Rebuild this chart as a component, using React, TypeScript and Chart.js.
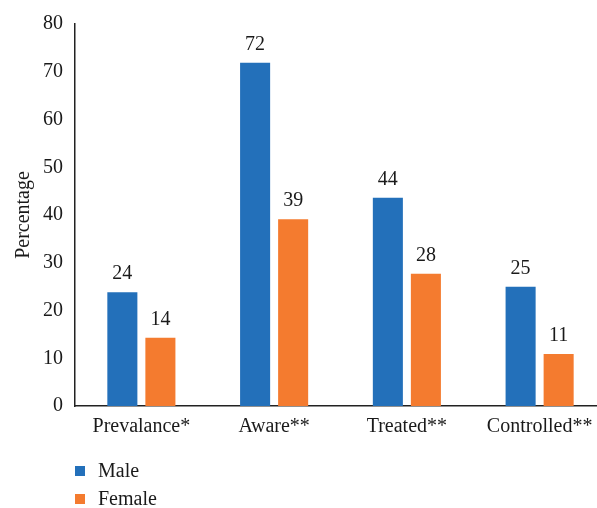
import React, { useEffect, useRef } from "react";
import { Chart, registerables } from "chart.js";

Chart.register(...registerables);

const categories = ["Prevalance*", "Aware**", "Treated**", "Controlled**"];
const maleValues = [23.8, 71.9, 43.6, 25.0];
const femaleValues = [14.3, 39.1, 27.7, 10.9];
const maleLabels = ["24", "72", "44", "25"];
const femaleLabels = ["14", "39", "28", "11"];
const yTicks = [0, 10, 20, 30, 40, 50, 60, 70, 80];

const BLUE = "#2370BA";
const ORANGE = "#F47B2F";
const FONT = "'Liberation Serif', 'Times New Roman', serif";
const TEXT = "#1a1a1a";
const FS = 20;

export default function App() {
  const ref = useRef<HTMLCanvasElement | null>(null);

  useEffect(() => {
    document.documentElement.style.overflow = "hidden";
    document.body.style.overflow = "hidden";
    const canvas = ref.current;
    if (!canvas) return;
    const allLabels = [maleLabels, femaleLabels];

    const valueLabels = {
      id: "valueLabels",
      afterDatasetsDraw(chart: any) {
        const ctx = chart.ctx;
        ctx.save();
        ctx.font = `${FS}px ${FONT}`;
        ctx.fillStyle = TEXT;
        ctx.textAlign = "center";
        ctx.textBaseline = "alphabetic";
        chart.data.datasets.forEach((ds: any, di: number) => {
          const meta = chart.getDatasetMeta(di);
          meta.data.forEach((bar: any, i: number) => {
            ctx.fillText(allLabels[di][i], bar.x, bar.y - 13);
          });
        });
        ctx.restore();
      },
    };

    const bottomLegend = {
      id: "bottomLegend",
      afterDraw(chart: any) {
        const ctx = chart.ctx;
        ctx.save();
        ctx.font = `${FS}px ${FONT}`;
        ctx.textBaseline = "alphabetic";
        ctx.textAlign = "left";
        chart.data.datasets.forEach((ds: any, di: number) => {
          const y = 471 + di * 28;
          ctx.fillStyle = ds.backgroundColor;
          ctx.fillRect(75, y - 5, 10, 10);
          ctx.fillStyle = TEXT;
          ctx.fillText(ds.label, 98, y + 6);
        });
        ctx.restore();
      },
    };

    const chart = new Chart(canvas, {
      type: "bar",
      data: {
        labels: categories,
        datasets: [
          {
            label: "Male",
            data: maleValues,
            backgroundColor: BLUE,
            categoryPercentage: 0.573,
            barPercentage: 0.79,
          },
          {
            label: "Female",
            data: femaleValues,
            backgroundColor: ORANGE,
            categoryPercentage: 0.573,
            barPercentage: 0.79,
          },
        ],
      },
      options: {
        animation: false,
        responsive: false,
        maintainAspectRatio: false,
        devicePixelRatio: 1,
        layout: { padding: { top: 19, bottom: 62, left: 0, right: 0 } },
        plugins: {
          legend: { display: false },
          tooltip: { enabled: false },
        },
        scales: {
          x: {
            grid: { display: false, drawTicks: false },
            border: { display: true, color: "#222", width: 1.5 },
            ticks: {
              color: TEXT,
              font: { family: FONT, size: FS },
              padding: 9,
              maxRotation: 0,
              autoSkip: false,
            },
            afterFit(scale: any) {
              scale.height = 40;
            },
          },
          y: {
            min: 0,
            max: 80,
            grid: { display: false, drawTicks: false },
            border: { display: true, color: "#222", width: 1.5 },
            afterBuildTicks(scale: any) {
              scale.ticks = yTicks.map((v) => ({ value: v }));
            },
            ticks: {
              color: TEXT,
              font: { family: FONT, size: FS },
              padding: 12,
            },
            title: {
              display: true,
              text: "Percentage",
              color: TEXT,
              font: { family: FONT, size: FS },
              padding: { top: 12, bottom: 0 },
            },
            afterFit(scale: any) {
              scale.width = 75;
            },
          },
        },
      },
      plugins: [valueLabels, bottomLegend],
    });
    return () => chart.destroy();
  }, []);

  return (
    <div style={{ position: "absolute", left: 0, top: 0, width: 606, height: 508, overflow: "hidden", background: "#fff" }}>
      <canvas ref={ref} width={606} height={508} style={{ width: 606, height: 508, display: "block" }} />
    </div>
  );
}
